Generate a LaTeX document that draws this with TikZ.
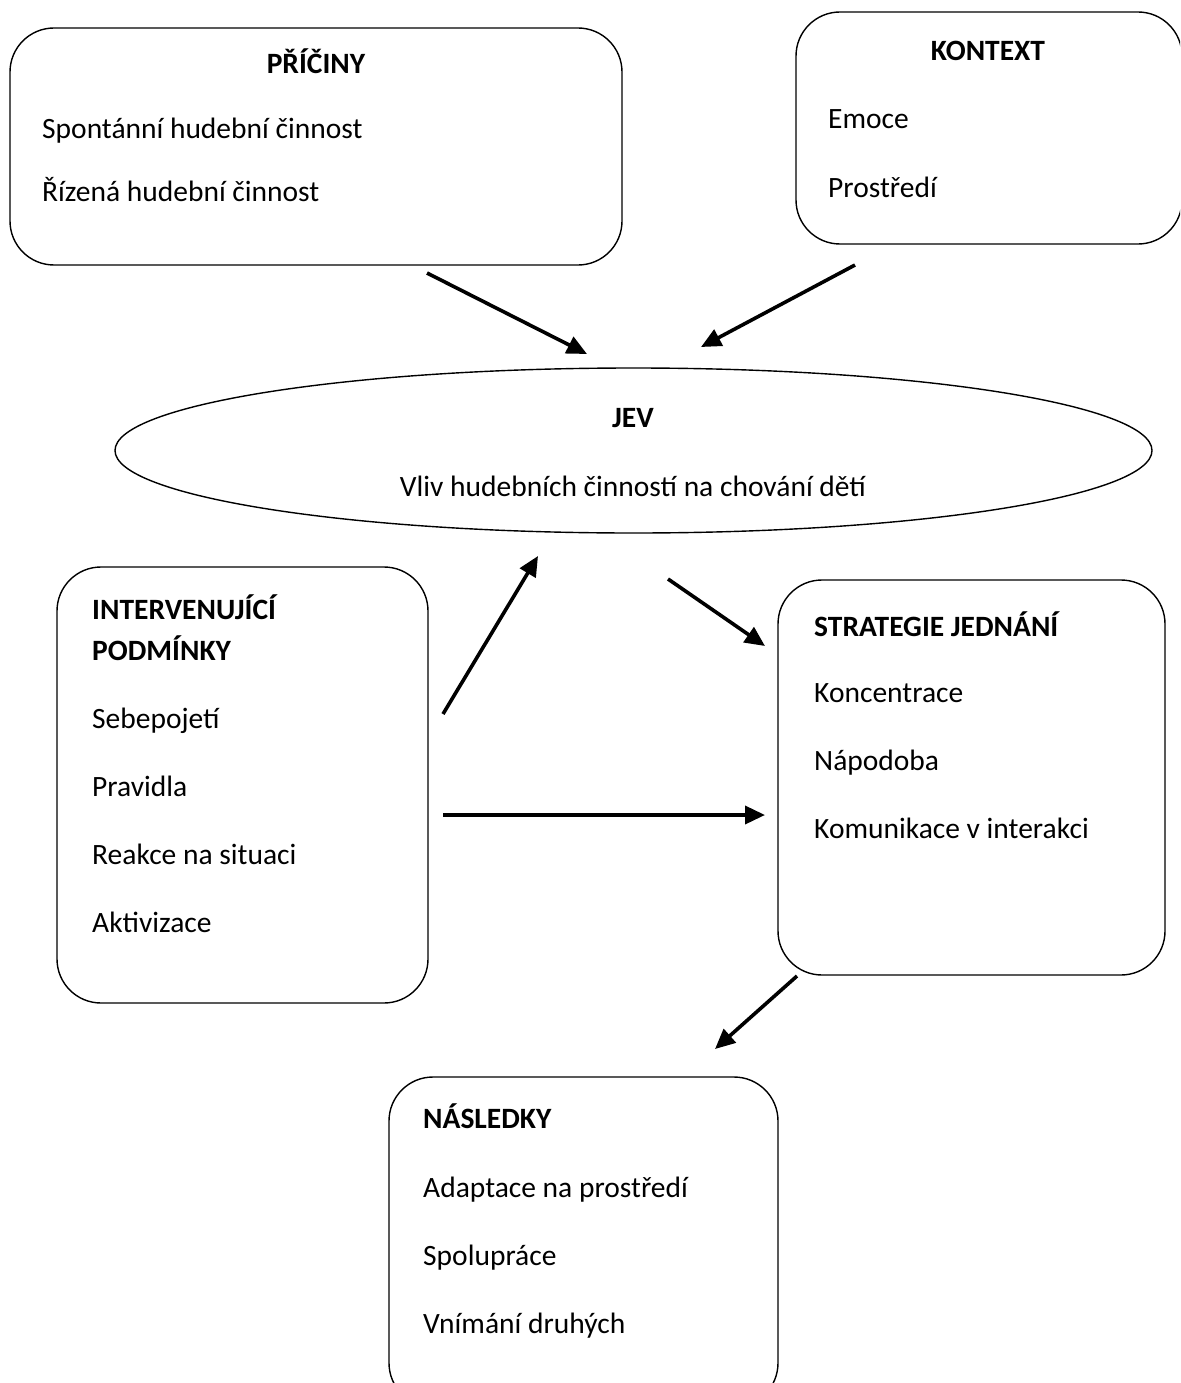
\documentclass[tikz,border=0pt]{standalone}
\usepackage{fontspec}
\setmainfont{Carlito}
\usetikzlibrary{arrows.meta,shapes.geometric}
\begin{document}
\begin{tikzpicture}[x=1pt,y=-1pt,
  box/.style={draw,line width=1.4pt,rounded corners=44pt,inner sep=0pt},
  txt/.style={inner sep=0pt,anchor=base west,font=\fontsize{29.5}{32}\selectfont},
  ttl/.style={inner sep=0pt,anchor=base,font=\fontsize{29.5}{32}\selectfont\bfseries},
  arr/.style={line width=3.6pt,-{Triangle[length=20pt,width=18pt]}}]
\useasboundingbox (0,0) rectangle (1180,1383);
\begin{scope}
\clip (0,0) rectangle (1180,1383);
% boxes
\node[box,minimum width=612pt,minimum height=237pt] (pri) at (316,146.5) {};
\node[box,minimum width=386pt,minimum height=232pt] (kon) at (989,128) {};
\node[draw,line width=1.4pt,ellipse,inner sep=0pt,minimum width=1037pt,minimum height=165pt] (jev) at (633.5,450.5) {};
\node[box,minimum width=371pt,minimum height=436pt] (int) at (242.5,785) {};
\node[box,minimum width=387pt,minimum height=395pt] (str) at (971.5,777.5) {};
\node[box,minimum width=389pt,minimum height=330pt] (nas) at (583.5,1242) {};
\end{scope}
% texts (y = baseline)
\node[ttl] (priT) at (316,74) {PŘÍČINY};
\node[txt] (pri1) at (42,139) {Spontánní hudební činnost};
\node[txt] (pri2) at (42,201) {Řízená hudební činnost};
\node[ttl] (konT) at (988,61) {KONTEXT};
\node[txt] (kon1) at (828,129) {Emoce};
\node[txt] (kon2) at (828,197) {Prostředí};
\node[ttl] (jevT) at (633,427) {JEV};
\node[inner sep=0pt,anchor=base,font=\fontsize{29.5}{32}\selectfont] (jev1) at (633,496) {Vliv hudebních činností na chování dětí};
\node[ttl,anchor=base west] (intT1) at (92,619) {INTERVENUJÍCÍ};
\node[ttl,anchor=base west] (intT2) at (92,660) {PODMÍNKY};
\node[txt] (int1) at (92,728) {Sebepojetí};
\node[txt] (int2) at (92,796) {Pravidla};
\node[txt] (int3) at (92,864) {Reakce na situaci};
\node[txt] (int4) at (92,932) {Aktivizace};
\node[ttl,anchor=base west] (strT) at (814,636) {STRATEGIE JEDNÁNÍ};
\node[txt] (str1) at (814,702) {Koncentrace};
\node[txt] (str2) at (814,770) {Nápodoba};
\node[txt] (str3) at (814,838) {Komunikace v interakci};
\node[ttl,anchor=base west] (nasT) at (423,1128) {NÁSLEDKY};
\node[txt] (nas1) at (423,1197) {Adaptace na prostředí};
\node[txt] (nas2) at (423,1265) {Spolupráce};
\node[txt] (nas3) at (423,1333) {Vnímání druhých};
% arrow endpoints
\coordinate (a1s) at (427,273); \coordinate (a1e) at (587,354);
\coordinate (a2s) at (855,265); \coordinate (a2e) at (701,347);
\coordinate (a3s) at (443,714); \coordinate (a3e) at (538,556);
\coordinate (a4s) at (668,579); \coordinate (a4e) at (765,646);
\coordinate (a5s) at (443,815); \coordinate (a5e) at (765,815);
\coordinate (a6s) at (797,976); \coordinate (a6e) at (715,1049);
\draw[arr] (a1s) -- (a1e);
\draw[arr] (a2s) -- (a2e);
\draw[arr] (a3s) -- (a3e);
\draw[arr] (a4s) -- (a4e);
\draw[arr] (a5s) -- (a5e);
\draw[arr] (a6s) -- (a6e);
\end{tikzpicture}
\end{document}
